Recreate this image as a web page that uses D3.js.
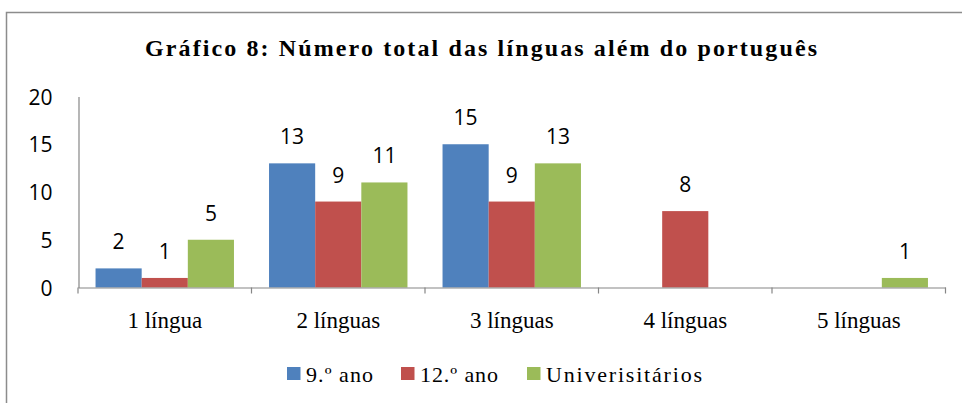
<!DOCTYPE html>
<html>
<head>
<meta charset="utf-8">
<script src="https://cdn.jsdelivr.net/npm/d3@7"></script>
<style>
body{margin:0;background:#fff;}
</style>
</head>
<body>
<script>
var categories=['1 língua','2 línguas','3 línguas','4 línguas','5 línguas'];
var seriesNames=['9.º ano','12.º ano','Univerisitários'];
var ano9=[2,13,15,0,0];
var ano12=[1,9,9,8,0];
var universitarios=[5,11,13,0,1];
var yTicks=[0,5,10,15,20];
var colors=['#4F81BD','#C0504D','#9BBB59'];

var width=962;
var height=403;
var allSeries=[ano9,ano12,universitarios];

var svg=d3.select('body')
.append('svg')
.attr('width',width)
.attr('height',height);

svg.append('rect')
.attr('x',6.5)
.attr('y',12.5)
.attr('width',1000)
.attr('height',500)
.style('fill','white')
.style('stroke','#8c8c8c')
.style('stroke-width',1.5);

svg.append('text')
.attr('x',481)
.attr('y',56)
.attr('text-anchor','middle')
.attr('textLength',672)
.attr('lengthAdjust','spacing')
.style('font-family','"Liberation Serif", serif')
.style('font-weight','bold')
.style('font-size','24px')
.text('Gráfico 8: Número total das línguas além do português');

var xScale=d3.scaleBand()
.domain(categories)
.range([78,945.5]);

var seriesScale=d3.scaleBand()
.domain(seriesNames)
.range([0,xScale.bandwidth()])
.paddingOuter(0.38);

var yScale=d3.scaleLinear()
.domain([0,20])
.range([287.5,96.5]);

var groups=svg.selectAll('g.series')
.data(allSeries)
.enter()
.append('g')
.attr('class','series')
.style('fill',(d,i)=>colors[i]);

groups.selectAll('rect')
.data((d,i)=>d.map((v,j)=>({v:v,cat:categories[j],s:seriesNames[i]})))
.enter()
.filter(d=>d.v>0)
.append('rect')
.attr('x',d=>xScale(d.cat)+seriesScale(d.s))
.attr('y',d=>yScale(d.v))
.attr('width',seriesScale.bandwidth())
.attr('height',d=>yScale(0)-yScale(d.v));

groups.selectAll('text')
.data((d,i)=>d.map((v,j)=>({v:v,cat:categories[j],s:seriesNames[i]})))
.enter()
.filter(d=>d.v>0)
.append('text')
.attr('x',d=>xScale(d.cat)+seriesScale(d.s)+seriesScale.bandwidth()/2)
.attr('y',d=>yScale(d.v)-19)
.attr('text-anchor','middle')
.style('fill','#000')
.style('font-family','"Open Sans", sans-serif')
.style('font-size','21px')
.text(d=>d.v);

var yAxis=d3.axisLeft(yScale)
.tickValues(yTicks)
.tickSize(0)
.tickPadding(26);

var yG=svg.append('g')
.attr('transform','translate(78.5,0)')
.call(yAxis);
yG.select('.domain').attr('stroke','#868686').attr('stroke-width',1.2);
yG.selectAll('text')
.style('font-family','"Open Sans", sans-serif')
.style('font-size','21px')
.attr('dy','0.36em')
.style('fill','#000');

var xAxis=d3.axisBottom(xScale)
.tickSize(0)
.tickPadding(0);

var xG=svg.append('g')
.attr('transform','translate(0,287.5)')
.call(xAxis);
xG.select('.domain').attr('stroke','#868686').attr('stroke-width',1.2);
xG.selectAll('.tick line').remove();
xG.selectAll('text')
.attr('y',40)
.attr('dy',0)
.style('font-family','"Liberation Serif", serif')
.style('font-size','23px')
.style('fill','#000');

xG.selectAll('line.sep')
.data(categories.concat(['end']))
.enter()
.append('line')
.attr('class','sep')
.attr('x1',(d,i)=>i<categories.length?xScale(d):xScale.range()[1])
.attr('x2',(d,i)=>i<categories.length?xScale(d):xScale.range()[1])
.attr('y1',0)
.attr('y2',6)
.attr('stroke','#868686')
.attr('stroke-width',1.2);

var legendX=[287,401,527];
var legendW=[67,78,156];
var legend=svg.append('g')
.attr('transform','translate(0,367)');

var items=legend.selectAll('g')
.data(seriesNames)
.enter()
.append('g')
.attr('transform',(d,i)=>'translate('+legendX[i]+',0)');

items.append('rect')
.attr('width',13.5)
.attr('height',13)
.style('fill',(d,i)=>colors[i]);

items.append('text')
.attr('x',19)
.attr('y',14.5)
.attr('textLength',(d,i)=>legendW[i])
.attr('lengthAdjust','spacing')
.style('font-family','"Liberation Serif", serif')
.style('font-size','22px')
.text(d=>d);
</script>
</body>
</html>
